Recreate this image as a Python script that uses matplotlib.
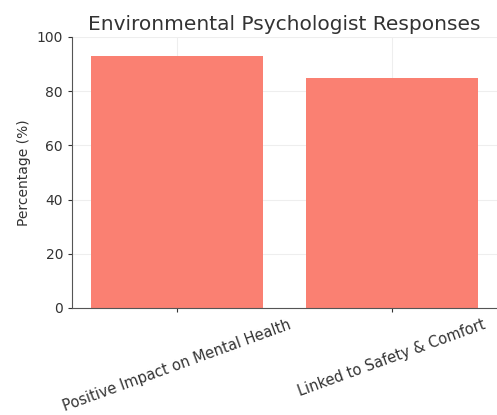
import matplotlib
matplotlib.use("Agg")
import matplotlib.pyplot as plt

categories = ["Positive Impact on Mental Health", "Linked to Safety & Comfort"]
percentages = [93, 85]
yticks = [0, 20, 40, 60, 80, 100]

fig = plt.figure(figsize=(4.97, 4.15), dpi=100)
ax = fig.add_axes([0.145, 0.258, 0.855, 0.653])

ax.bar(categories, percentages, color="#FA8072", width=0.8, zorder=2)
ax.set_ylim(0, 100)
ax.set_yticks(yticks)
ax.set_ylabel("Percentage (%)", fontsize=10, color="#333333")
ax.set_title("Environmental Psychologist Responses", fontsize=14.5, color="#333333", pad=5)

ax.grid(True, color="#eeeeee", linewidth=0.8, zorder=0)
for side in ("top", "right"):
    ax.spines[side].set_visible(False)
for side in ("left", "bottom"):
    ax.spines[side].set_color("#555555")
ax.tick_params(axis="both", colors="#333333", labelsize=10)
ax.tick_params(axis="y", length=3)
ax.tick_params(axis="x", length=3, labelsize=10.5)
plt.setp(ax.get_xticklabels(), rotation=20, ha="center")

fig.savefig("out.png", dpi=100)
